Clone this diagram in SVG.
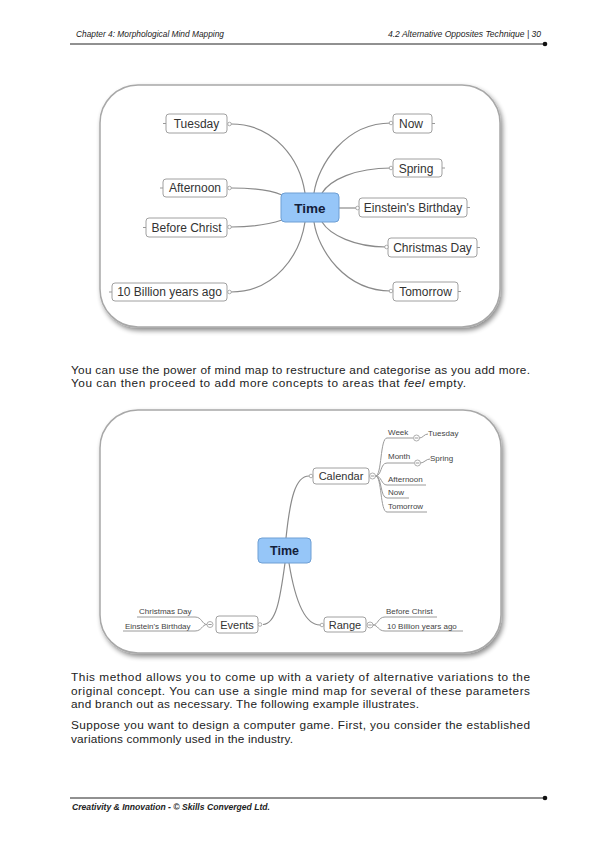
<svg xmlns="http://www.w3.org/2000/svg" width="600" height="852" viewBox="0 0 600 852">
<style>
.hdr{font-family:"Liberation Sans",Arial,sans-serif;font-style:italic;font-size:8.5px;fill:#222}
.ftr{font-family:"Liberation Sans",Arial,sans-serif;font-style:italic;font-weight:bold;font-size:8.5px;fill:#222}
.body{font-family:"Liberation Sans",Arial,sans-serif;font-size:11.8px;fill:#222}
.frame{fill:#fff;stroke:#a8a8a8;stroke-width:1.5}
.node{fill:#fff;stroke:#a0a0a0;stroke-width:1}
.root{fill:#96c6f8;stroke:#6e9fd4;stroke-width:1}
.t1{font-family:"Liberation Sans",Arial,sans-serif;font-size:12px;fill:#333;text-anchor:middle}
.t2{font-family:"Liberation Sans",Arial,sans-serif;font-size:11px;fill:#333;text-anchor:middle}
.ts{font-family:"Liberation Sans",Arial,sans-serif;font-size:8px;fill:#444}
.rt{font-family:"Liberation Sans",Arial,sans-serif;font-weight:bold;fill:#13203a;text-anchor:middle}
.c{fill:none;stroke:#8a8a8a;stroke-width:1.2}
.u{fill:none;stroke:#9a9a9a;stroke-width:1}
.dot{fill:#fff;stroke:#999;stroke-width:0.8}
.col{fill:#fff;stroke:#999;stroke-width:0.8}
.tick{stroke:#999;stroke-width:1}
</style>
<defs>
<filter id="sh" x="-10%" y="-10%" width="120%" height="130%">
<feGaussianBlur in="SourceAlpha" stdDeviation="2.5"/>
<feOffset dx="2" dy="3" result="b"/>
<feComponentTransfer><feFuncA type="linear" slope="0.45"/></feComponentTransfer>
<feMerge><feMergeNode/><feMergeNode in="SourceGraphic"/></feMerge>
</filter>
</defs>
<rect width="600" height="852" fill="#fff"/>

<g id="header">
<text class="hdr" x="76" y="37" textLength="148" lengthAdjust="spacingAndGlyphs">Chapter 4: Morphological Mind Mapping</text>
<text class="hdr" x="388" y="37" textLength="153" lengthAdjust="spacingAndGlyphs">4.2 Alternative Opposites Technique | 30</text>
<line x1="70" y1="44" x2="545" y2="44" stroke="#222" stroke-width="1"/>
<circle cx="545" cy="44" r="2.3" fill="#111"/>
</g>

<g id="footer">
<line x1="70" y1="798" x2="545" y2="798" stroke="#222" stroke-width="1"/>
<circle cx="545" cy="798" r="2.3" fill="#111"/>
<text class="ftr" x="72" y="810" textLength="198" lengthAdjust="spacingAndGlyphs">Creativity &amp; Innovation - © Skills Converged Ltd.</text>
</g>

<!-- Map 1 -->
<rect id="frame1" class="frame" x="100" y="85" width="400" height="242" rx="38" filter="url(#sh)"/>
<g id="map1-connectors">
<path class="c" d="M231,124 C275,124 300,160 305,193"/>
<path class="c" d="M231,188 C255,188 270,190 282,195"/>
<path class="c" d="M231,227 C255,227 270,224 282,220"/>
<path class="c" d="M231,292 C275,292 300,255 305,222"/>
<path class="c" d="M391,123 C345,123 318,165 314,193"/>
<path class="c" d="M391,168 C355,168 330,180 322,193"/>
<path class="c" d="M339,208 L357,208"/>
<path class="c" d="M386,247 C355,247 330,235 322,222"/>
<path class="c" d="M391,291 C345,291 318,250 314,222"/>
</g>
<g id="m1-time"><rect class="root" x="281" y="193" width="58" height="29" rx="4"/><text class="rt" x="310" y="212.5" font-size="13.5">Time</text></g>
<g id="m1-tuesday"><rect class="node" x="166" y="114" width="61" height="19" rx="3"/><line class="tick" x1="163" y1="123.5" x2="166" y2="123.5"/><circle class="dot" cx="229.5" cy="124" r="1.8"/><text class="t1" x="196.5" y="128">Tuesday</text></g>
<g id="m1-afternoon"><rect class="node" x="163" y="179" width="64" height="18" rx="3"/><line class="tick" x1="160" y1="188" x2="163" y2="188"/><circle class="dot" cx="229.5" cy="188" r="1.8"/><text class="t1" x="195" y="192">Afternoon</text></g>
<g id="m1-beforechrist"><rect class="node" x="146" y="218" width="81" height="19" rx="3"/><line class="tick" x1="143" y1="227.5" x2="146" y2="227.5"/><circle class="dot" cx="229.5" cy="227" r="1.8"/><text class="t1" x="186.5" y="232">Before Christ</text></g>
<g id="m1-10billion"><rect class="node" x="112" y="283" width="115" height="18" rx="3"/><line class="tick" x1="109" y1="292" x2="112" y2="292"/><circle class="dot" cx="229.5" cy="292" r="1.8"/><text class="t1" x="169.5" y="296">10 Billion years ago</text></g>
<g id="m1-now"><rect class="node" x="393" y="114" width="39" height="19" rx="3"/><line class="tick" x1="432" y1="123.5" x2="435" y2="123.5"/><circle class="dot" cx="391" cy="123" r="1.8"/><text class="t1" x="411" y="128">Now</text></g>
<g id="m1-spring"><rect class="node" x="393" y="159" width="49" height="18" rx="3"/><line class="tick" x1="442" y1="168" x2="445" y2="168"/><circle class="dot" cx="391" cy="168" r="1.8"/><text class="t1" x="416" y="172.5">Spring</text></g>
<g id="m1-einstein"><rect class="node" x="359" y="198" width="108" height="19" rx="3"/><line class="tick" x1="467" y1="207.5" x2="470" y2="207.5"/><circle class="dot" cx="357.5" cy="208" r="1.8"/><text class="t1" x="413" y="212">Einstein's Birthday</text></g>
<g id="m1-christmas"><rect class="node" x="388" y="238" width="89" height="19" rx="3"/><line class="tick" x1="477" y1="247.5" x2="480" y2="247.5"/><circle class="dot" cx="386.5" cy="247" r="1.8"/><text class="t1" x="432.5" y="251.5">Christmas Day</text></g>
<g id="m1-tomorrow"><rect class="node" x="393" y="282" width="65" height="19" rx="3"/><line class="tick" x1="458" y1="291.5" x2="461" y2="291.5"/><circle class="dot" cx="391" cy="291" r="1.8"/><text class="t1" x="425.5" y="296">Tomorrow</text></g>

<g id="para1">
<text class="body" x="71" y="374" textLength="459" lengthAdjust="spacing">You can use the power of mind map to restructure and categorise as you add more.</text>
<text class="body" x="71" y="387" textLength="395" lengthAdjust="spacing">You can then proceed to add more concepts to areas that <tspan font-style="italic">feel</tspan> empty.</text>
</g>

<!-- Map 2 -->
<rect id="frame2" class="frame" x="100" y="410" width="401" height="243" rx="38" filter="url(#sh)"/>
<g id="map2-connectors">
<path class="c" d="M286,538 C290,500 295,476 309,476"/>
<path class="c" d="M285,563 C280,600 276,624 263,624.5"/>
<path class="c" d="M289,563 C295,600 305,625 320,625"/>
<path class="u" d="M375.5,476 C382,476 380,438 387,438 L413,438"/>
<path class="u" d="M375.5,476 C382,476 380,463 387,463 L414,463"/>
<path class="u" d="M375.5,476 C382,476 381,485 387,485 L426,485"/>
<path class="u" d="M375.5,476 C382,476 380,498 387,498 L409,498"/>
<path class="u" d="M375.5,476 C382,476 380,512 387,512 L427,512"/>
<path class="u" d="M419.5,438 C423,438 424,434 428,434"/>
<path class="u" d="M420.5,463 C424,463 426,459 430,459"/>
<path class="u" d="M373,625 C378,625 378,617 385,617 L437,617"/>
<path class="u" d="M373,625 C378,625 378,631 385,631 L463,631"/>
<path class="u" d="M207,624.5 C202,624.5 202,617 195,617 L137,617"/>
<path class="u" d="M207,624.5 C202,624.5 202,631 195,631 L123,631"/>
</g>
<g id="m2-time"><rect class="root" x="258" y="538" width="53" height="25" rx="4"/><text class="rt" x="284.5" y="555" font-size="12.5">Time</text></g>
<g id="m2-calendar"><rect class="node" x="313" y="468" width="56" height="16" rx="3"/><circle class="dot" cx="311" cy="476" r="1.8"/><text class="t2" x="341" y="480">Calendar</text>
<circle class="col" cx="372.5" cy="476" r="3"/><line class="tick" x1="370.8" y1="476" x2="374.2" y2="476"/></g>
<g id="m2-week"><text class="ts" x="388" y="435">Week</text><circle class="col" cx="416.5" cy="438" r="3"/><line class="tick" x1="414.8" y1="438" x2="418.2" y2="438"/></g>
<g id="m2-tuesday"><text class="ts" x="428" y="436">Tuesday</text></g>
<g id="m2-month"><text class="ts" x="388" y="459">Month</text><circle class="col" cx="417.5" cy="463" r="3"/><line class="tick" x1="415.8" y1="463" x2="419.2" y2="463"/></g>
<g id="m2-spring"><text class="ts" x="430" y="461">Spring</text></g>
<g id="m2-afternoon"><text class="ts" x="388" y="482">Afternoon</text></g>
<g id="m2-now"><text class="ts" x="388" y="495">Now</text></g>
<g id="m2-tomorrow"><text class="ts" x="388" y="509">Tomorrow</text></g>
<g id="m2-range"><rect class="node" x="324" y="617" width="42" height="15" rx="3"/><circle class="dot" cx="322" cy="625" r="1.8"/><text class="t2" x="345" y="628.5">Range</text>
<circle class="col" cx="370" cy="625" r="3"/><line class="tick" x1="368.3" y1="625" x2="371.7" y2="625"/></g>
<g id="m2-beforechrist"><text class="ts" x="386" y="614">Before Christ</text></g>
<g id="m2-10billion"><text class="ts" x="387" y="628.5">10 Billion years ago</text></g>
<g id="m2-events"><rect class="node" x="216" y="616" width="42" height="17" rx="3"/><circle class="dot" cx="260" cy="624.5" r="1.8"/><text class="t2" x="237" y="628.5">Events</text>
<circle class="col" cx="210" cy="624.5" r="3"/><line class="tick" x1="208.3" y1="624.5" x2="211.7" y2="624.5"/></g>
<g id="m2-christmas"><text class="ts" x="139" y="614">Christmas Day</text></g>
<g id="m2-einstein"><text class="ts" x="125" y="628.5">Einstein's Birthday</text></g>

<g id="para2">
<text class="body" x="71" y="681" textLength="459" lengthAdjust="spacing">This method allows you to come up with a variety of alternative variations to the</text>
<text class="body" x="71" y="694.5" textLength="459" lengthAdjust="spacing">original concept. You can use a single mind map for several of these parameters</text>
<text class="body" x="71" y="708" textLength="348" lengthAdjust="spacing">and branch out as necessary. The following example illustrates.</text>
</g>
<g id="para3">
<text class="body" x="71" y="729" textLength="459" lengthAdjust="spacing">Suppose you want to design a computer game. First, you consider the established</text>
<text class="body" x="71" y="742.5" textLength="222" lengthAdjust="spacing">variations commonly used in the industry.</text>
</g>
</svg>
